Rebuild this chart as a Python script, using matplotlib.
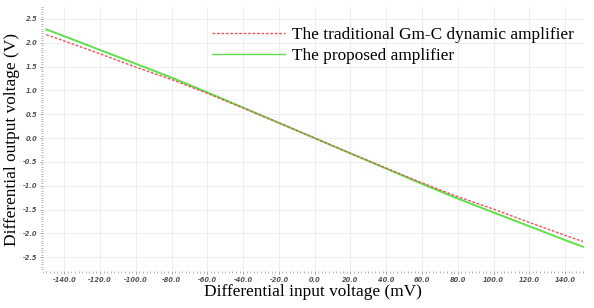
import matplotlib.pyplot as plt
from matplotlib.ticker import MultipleLocator, FormatStrFormatter

# differential input (mV) and output (V)
vin = [-150, -140, -120, -100, -80, -60, -40, -20, 0, 20, 40, 60, 80, 100, 120, 140, 150]
v_traditional = [2.17, 2.04, 1.77, 1.49, 1.23, 0.94, 0.63, 0.32, 0.0,
                 -0.32, -0.63, -0.94, -1.23, -1.49, -1.77, -2.04, -2.17]
v_proposed = [2.28, 2.14, 1.85, 1.56, 1.27, 0.96, 0.64, 0.32, 0.0,
              -0.32, -0.64, -0.96, -1.27, -1.56, -1.85, -2.14, -2.28]

serif = ['Liberation Serif', 'DejaVu Serif']

fig = plt.figure(figsize=(5.94, 3.08), dpi=100)
ax = fig.add_axes([0.072, 0.12, 0.911, 0.857])

ax.plot(vin, v_traditional, color='#e8555a', lw=1.0, ls=(0, (2, 1.2)),
        label='The traditional Gm-C dynamic amplifier', zorder=3)
ax.plot(vin, v_proposed, color='#5ee04a', lw=1.4,
        label='The proposed amplifier', zorder=2)

ax.set_xlim(-152, 150.5)
ax.set_ylim(-2.79, 2.75)
ax.xaxis.set_major_locator(MultipleLocator(20))
ax.yaxis.set_major_locator(MultipleLocator(0.5))
ax.xaxis.set_minor_locator(MultipleLocator(2))
ax.yaxis.set_minor_locator(MultipleLocator(0.05))
ax.xaxis.set_major_formatter(FormatStrFormatter('%.1f'))
ax.yaxis.set_major_formatter(FormatStrFormatter('%.1f'))

for lab in ax.get_xticklabels() + ax.get_yticklabels():
    lab.set_fontstyle('italic')
    lab.set_fontweight('bold')
ax.tick_params(which='major', length=2, width=0.6, color='#999999',
               labelsize=4.8, labelcolor='#555555', pad=2)
ax.tick_params(which='minor', length=1.5, width=0.5, color='#999999')

ax.grid(True, which='major', color='#eeeeee', lw=0.8)
for s in ['top', 'right', 'left', 'bottom']:
    ax.spines[s].set_visible(False)

ax.set_xlabel('Differential input voltage (mV)', family=serif, fontsize=12.4, labelpad=1)
ax.set_ylabel('Differential output voltage (V)', family=serif, fontsize=12.4, va='center')
ax.yaxis.set_label_coords(-0.056, 0.5)

leg = ax.legend(loc='upper left', bbox_to_anchor=(0.2845, 0.985), frameon=False,
                handlelength=4.25, handletextpad=0.4, labelspacing=0.3,
                prop={'family': serif, 'size': 12.4})
leg.get_lines()[1].set_linewidth(1.0)

fig.savefig('out.png', dpi=100)
